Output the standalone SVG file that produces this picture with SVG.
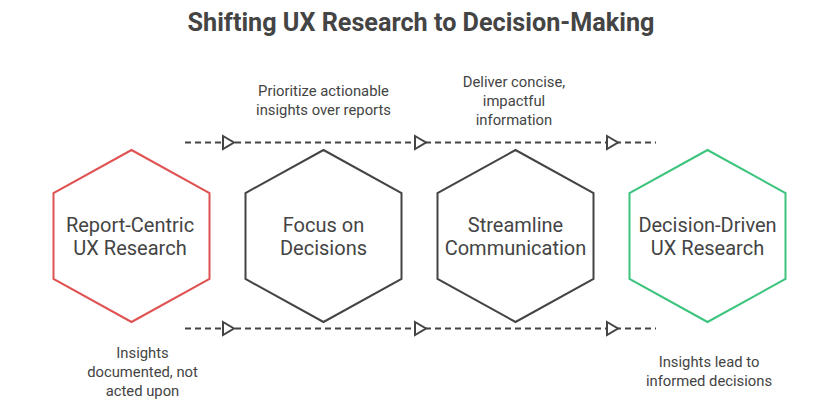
<svg xmlns="http://www.w3.org/2000/svg" width="840" height="417" viewBox="0 0 840 417">
<defs>
<style>
.title{font-family:Roboto,"Liberation Sans",sans-serif;font-weight:bold;font-size:25.2px;fill:#444;text-anchor:middle}
.lbl{font-family:Roboto,"Liberation Sans",sans-serif;font-size:20px;fill:#444;text-anchor:middle}
.ann{font-family:Roboto,"Liberation Sans",sans-serif;font-size:14.8px;fill:#444;text-anchor:middle}
.hex{fill:#fff;stroke-width:2}
.dash{fill:none;stroke:#444;stroke-width:2;stroke-dasharray:6 4}
.tri{fill:#fff;stroke:#444;stroke-width:2;stroke-linejoin:miter}
</style>
</defs>
<rect width="840" height="417" fill="#fff"/>
<text class="title" x="421" y="31">Shifting UX Research to Decision-Making</text>
<g id="connectors">
<path class="dash" d="M185 142.5 H656"/>
<path class="dash" d="M185 328.5 H656"/>
<polygon class="tri" points="223,136 234,142.5 223,149"/>
<polygon class="tri" points="415,136 426,142.5 415,149"/>
<polygon class="tri" points="607,136 618,142.5 607,149"/>
<polygon class="tri" points="223,322 234,328.5 223,335"/>
<polygon class="tri" points="415,322 426,328.5 415,335"/>
<polygon class="tri" points="607,322 618,328.5 607,335"/>
</g>
<g id="node1">
<polygon class="hex" stroke="#E05252" points="131.5,150 209.5,193 209.5,279 131.5,322 53.5,279 53.5,193"/>
<text class="lbl" x="130" y="231.5">Report-Centric</text>
<text class="lbl" x="130" y="255">UX Research</text>
</g>
<g id="node2">
<polygon class="hex" stroke="#444" points="323.5,150 401.5,193 401.5,279 323.5,322 245.5,279 245.5,193"/>
<text class="lbl" x="323.5" y="231.5">Focus on</text>
<text class="lbl" x="323.5" y="255">Decisions</text>
</g>
<g id="node3">
<polygon class="hex" stroke="#444" points="515.5,150 593.5,193 593.5,279 515.5,322 437.5,279 437.5,193"/>
<text class="lbl" x="515.5" y="231.5">Streamline</text>
<text class="lbl" x="515.5" y="255">Communication</text>
</g>
<g id="node4">
<polygon class="hex" stroke="#3CC47C" points="707.5,150 785.5,193 785.5,279 707.5,322 629.5,279 629.5,193"/>
<text class="lbl" x="707.5" y="231.5">Decision-Driven</text>
<text class="lbl" x="707.5" y="255">UX Research</text>
</g>
<g id="annotations">
<text class="ann" x="323.5" y="95.5">Prioritize actionable</text>
<text class="ann" x="323.5" y="114.5">insights over reports</text>
<text class="ann" x="514" y="86.5">Deliver concise,</text>
<text class="ann" x="514" y="105.5">impactful</text>
<text class="ann" x="514" y="124.5">information</text>
<text class="ann" x="142.5" y="357.5">Insights</text>
<text class="ann" x="142.5" y="376.5">documented, not</text>
<text class="ann" x="142.5" y="395.5">acted upon</text>
<text class="ann" x="709" y="366.5">Insights lead to</text>
<text class="ann" x="709" y="385.5">informed decisions</text>
</g>
</svg>
